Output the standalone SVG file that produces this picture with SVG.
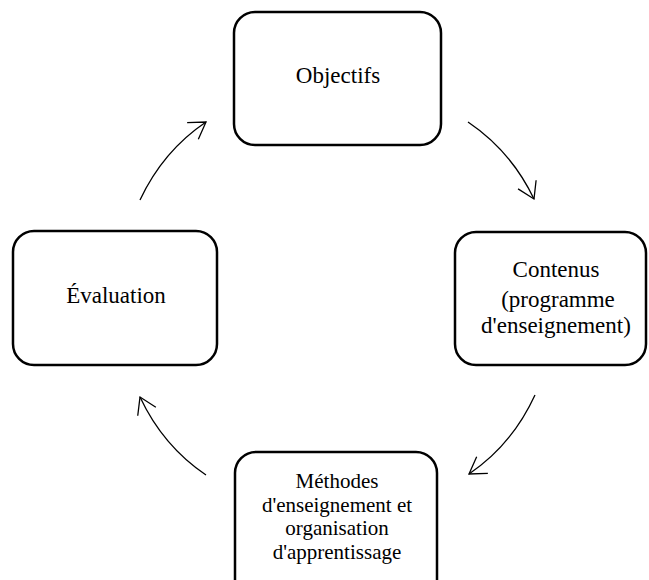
<svg xmlns="http://www.w3.org/2000/svg" width="649" height="580" viewBox="0 0 649 580">
<defs>
<style>
.box{fill:#fff;stroke:#000;stroke-width:2.5}
.lbl{font-family:"Liberation Serif","Times New Roman",serif;font-size:23px;fill:#000;text-anchor:middle}
.sm{font-size:21px}
.arr{fill:none;stroke:#000;stroke-width:1.3;marker-end:url(#ah)}
</style>
<marker id="ah" markerUnits="userSpaceOnUse" markerWidth="40" markerHeight="40" viewBox="-20 -20 40 40" refX="0" refY="0" orient="auto">
<path d="M-16,-10 L0,0 L-16,10" fill="none" stroke="#000" stroke-width="1.3"/>
</marker>
</defs>
<g id="connectors">
<path class="arr" d="M140,200 Q163,151 206,122"/>
<path class="arr" d="M468,122 Q511,151 534,199"/>
<path class="arr" d="M535,395 Q512,445 469,474"/>
<path class="arr" d="M206,475 Q163,446 140,397"/>
</g>
<g id="objectifs">
<rect class="box" x="234" y="12" width="207" height="133" rx="21"/>
<text class="lbl" x="338" y="83">Objectifs</text>
</g>
<g id="contenus">
<rect class="box" x="455" y="232" width="191" height="133" rx="21"/>
<text class="lbl" x="556" y="277">Contenus</text>
<text class="lbl" x="558" y="307">(programme</text>
<text class="lbl" x="556" y="333">d'enseignement)</text>
</g>
<g id="methodes">
<rect class="box" x="235" y="452" width="202" height="150" rx="21"/>
<text class="lbl sm" x="337" y="488">Méthodes</text>
<text class="lbl sm" x="337" y="511.5">d'enseignement et</text>
<text class="lbl sm" x="337" y="535">organisation</text>
<text class="lbl sm" x="337" y="558.5">d'apprentissage</text>
</g>
<g id="evaluation">
<rect class="box" x="13" y="231" width="204" height="134" rx="21"/>
<text class="lbl" x="116" y="303">Évaluation</text>
</g>
</svg>
